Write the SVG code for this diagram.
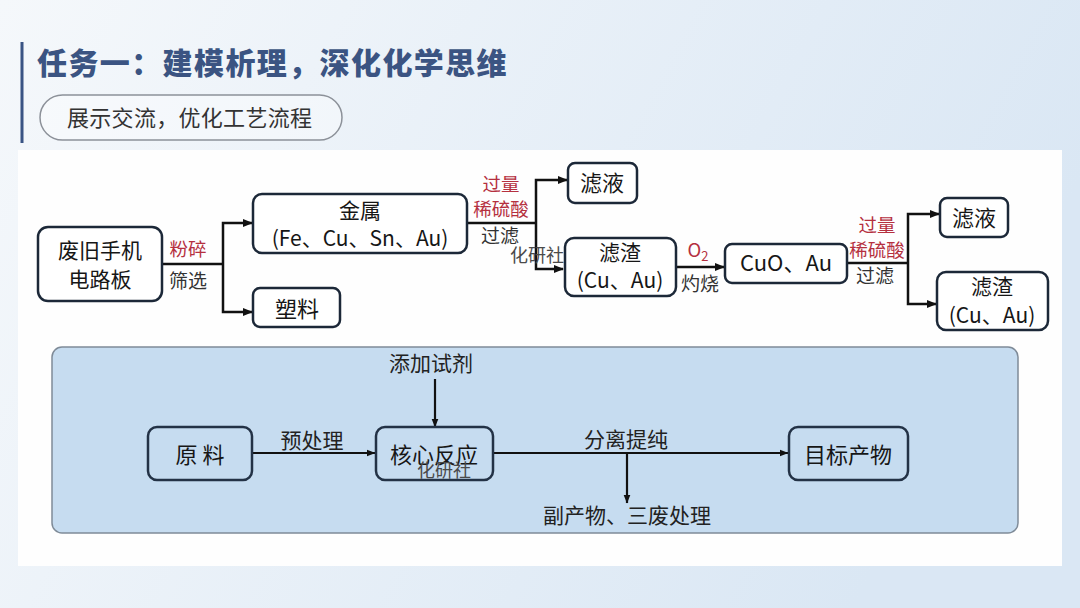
<svg xmlns="http://www.w3.org/2000/svg" width="1080" height="608" viewBox="0 0 1080 608">
<defs>
<linearGradient id="bg" x1="0" y1="0" x2="1" y2="0.3">
<stop offset="0" stop-color="#f5f8fb"/>
<stop offset="1" stop-color="#dae7f4"/>
</linearGradient>
<marker id="ah" markerWidth="10" markerHeight="8" refX="9" refY="4" orient="auto" markerUnits="userSpaceOnUse">
<path d="M0,0 L10,4 L0,8 z" fill="#111"/>
</marker>
<marker id="ah2" markerWidth="9" markerHeight="8" refX="8.5" refY="4" orient="auto" markerUnits="userSpaceOnUse">
<path d="M0,0.5 L9,4 L0,7.5 z" fill="#111"/>
</marker>
</defs>
<style>
text{font-family:"Noto Sans CJK SC","Liberation Sans",sans-serif;}
.box{fill:#fff;stroke:#1c2838;stroke-width:2.5;}
.bbox{fill:#c6dcf0;stroke:#233246;stroke-width:2.5;}
.nt{font-size:22px;fill:#161616;text-anchor:middle;}
.nt2{font-size:21px;fill:#161616;text-anchor:middle;}
.lb{font-size:19px;fill:#333;text-anchor:middle;}
.red{font-size:18.5px;fill:#b5303f;text-anchor:middle;}
.wm{font-size:18px;fill:#4a4a4a;text-anchor:middle;}
.bt{font-size:21px;fill:#222;text-anchor:middle;}
.ln{fill:none;stroke:#111;stroke-width:2.5;}
.ln2{fill:none;stroke:#111;stroke-width:2.2;}
</style>
<rect x="0" y="0" width="1080" height="608" fill="url(#bg)"/>
<rect x="18" y="150" width="1044" height="416" fill="#fefefe"/>
<g id="header">
<rect x="20.5" y="42" width="3" height="101" fill="#3a5484"/>
<text x="37" y="74" style="font-size:30px;font-weight:900;fill:#3b5482;letter-spacing:1.4px;">任务一：建模析理，深化化学思维</text>
<rect x="40" y="95" width="302" height="45" rx="22.5" fill="#ffffff" fill-opacity="0.35" stroke="#8c9199" stroke-width="1.5"/>
<text x="67" y="126" style="font-size:22px;fill:#333;letter-spacing:0.3px;">展示交流，优化工艺流程</text>
</g>
<rect id="panel" x="52" y="347" width="966" height="186" rx="10" fill="#c6dcf0" stroke="#7f8b98" stroke-width="1.5"/>
<g id="connectors">
<path class="ln" d="M162,264 H223"/>
<path class="ln" d="M223,264 V223 H252" marker-end="url(#ah)"/>
<path class="ln" d="M223,264 V312 H252" marker-end="url(#ah)"/>
<path class="ln" d="M467,223 H536"/>
<path class="ln" d="M536,223 V180 H567" marker-end="url(#ah)"/>
<path class="ln" d="M536,223 V269 H563" marker-end="url(#ah)"/>
<path class="ln" d="M676,267 H724" marker-end="url(#ah)"/>
<path class="ln" d="M847,263 H908"/>
<path class="ln" d="M908,263 V214 H939" marker-end="url(#ah)"/>
<path class="ln" d="M908,263 V304 H936" marker-end="url(#ah)"/>
<path class="ln2" d="M252,453 H375" marker-end="url(#ah2)"/>
<path class="ln2" d="M435,379 V427" marker-end="url(#ah2)"/>
<path class="ln2" d="M493,453 H788" marker-end="url(#ah2)"/>
<path class="ln2" d="M627,453 V503" marker-end="url(#ah2)"/>
</g>
<g id="labels">
<text class="red" x="188" y="256">粉碎</text>
<text class="lb" x="188" y="288">筛选</text>
<text class="red" x="501" y="191">过量</text>
<text class="red" x="501" y="216">稀硫酸</text>
<text class="lb" x="500" y="243">过滤</text>
<text class="wm" x="537" y="262">化研社</text>
<text class="red" x="698" y="257">O<tspan style="font-size:13px" dy="4">2</tspan></text>
<text class="lb" x="700" y="291">灼烧</text>
<text class="red" x="877" y="232">过量</text>
<text class="red" x="877" y="257">稀硫酸</text>
<text class="lb" x="875" y="283">过滤</text>
<text class="bt" x="431" y="371">添加试剂</text>
<text class="bt" x="312" y="448">预处理</text>
<text class="bt" x="626" y="447">分离提纯</text>
<text class="bt" x="627" y="523">副产物、三废处理</text>
</g>
<g id="n-board"><rect class="box" x="38" y="227" width="124" height="74" rx="10"/><text class="nt2" x="100" y="258">废旧手机</text><text class="nt2" x="100" y="287">电路板</text></g>
<g id="n-metal"><rect class="box" x="253" y="194" width="214" height="59" rx="9"/><text class="nt2" x="360" y="218">金属</text><text class="nt2" x="360" y="246">(Fe、Cu、Sn、Au)</text></g>
<g id="n-plastic"><rect class="box" x="253" y="288" width="87" height="39" rx="7"/><text class="nt" x="297" y="317">塑料</text></g>
<g id="n-filtrate1"><rect class="box" x="568" y="163" width="69" height="40" rx="7"/><text class="nt" x="602" y="191">滤液</text></g>
<g id="n-residue1"><rect class="box" x="565" y="238" width="111" height="58" rx="9"/><text class="nt2" x="620" y="260">滤渣</text><text class="nt2" x="620" y="288">(Cu、Au)</text></g>
<g id="n-cuo"><rect class="box" x="725" y="244" width="122" height="39" rx="7"/><text class="nt" x="786" y="271">CuO、Au</text></g>
<g id="n-filtrate2"><rect class="box" x="940" y="198" width="68" height="39" rx="7"/><text class="nt" x="974" y="226">滤液</text></g>
<g id="n-residue2"><rect class="box" x="937" y="272" width="111" height="58" rx="9"/><text class="nt2" x="992" y="294">滤渣</text><text class="nt2" x="992" y="323">(Cu、Au)</text></g>
<g id="n-raw"><rect class="bbox" x="148" y="427" width="104" height="53" rx="9"/><text class="nt" x="200" y="463">原 料</text></g>
<g id="n-core"><rect class="bbox" x="376" y="427" width="117" height="53" rx="9"/><text class="nt" x="434" y="463">核心反应</text><text class="wm" x="444" y="477">化研社</text></g>
<g id="n-target"><rect class="bbox" x="789" y="427" width="119" height="53" rx="9"/><text class="nt" x="848" y="463">目标产物</text></g>
</svg>
